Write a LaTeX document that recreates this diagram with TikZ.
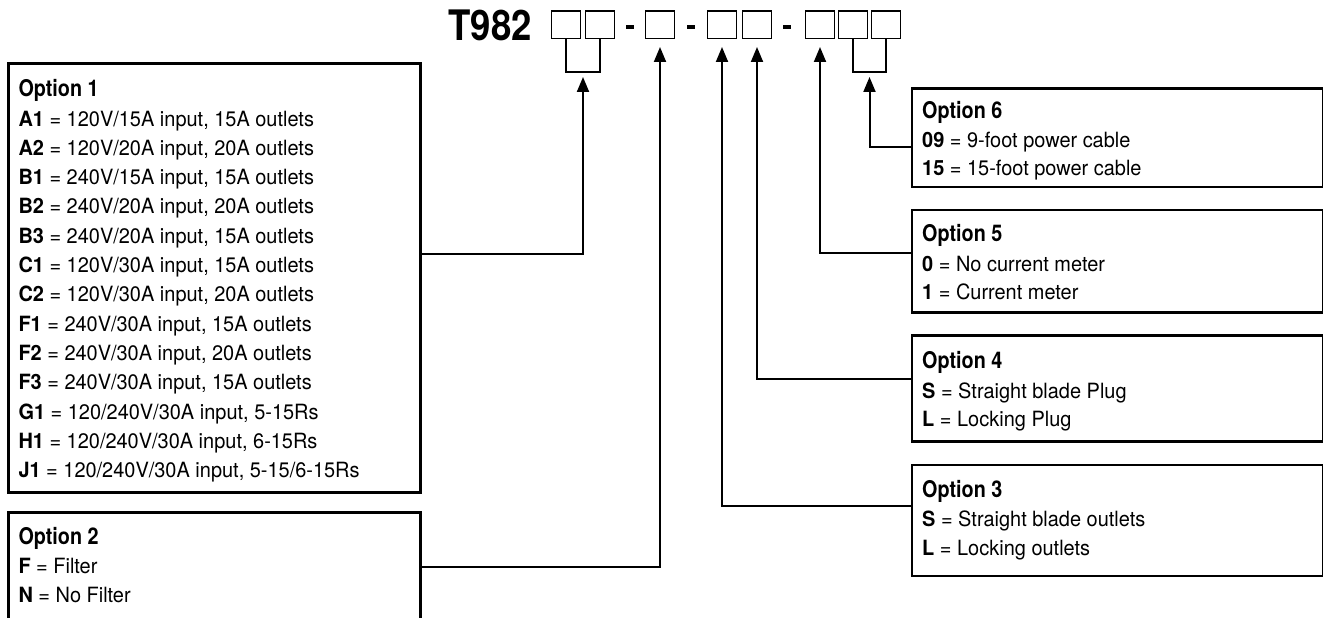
\documentclass[tikz,border=0pt]{standalone}
\usepackage{fontspec}
\setmainfont{TeX Gyre Heros}[FakeStretch=0.95]
\newfontfamily\titlefont{TeX Gyre Heros}[FakeStretch=0.87]
\newfontfamily\optfont{TeX Gyre Heros}[FakeStretch=0.86]
\usetikzlibrary{arrows.meta}
\begin{document}
\begin{tikzpicture}[x=1pt,y=-1pt,
  optbox/.style={draw, line width=2.6pt, inner sep=0pt, outer sep=0pt, anchor=north west, minimum width=411.5pt},
  ln/.style={anchor=base west, inner sep=0pt, font=\fontsize{21}{25}\selectfont},
  hd/.style={anchor=base west, inner sep=0pt, font=\optfont\bfseries\fontsize{23}{27}\selectfont},
  slot/.style={draw, line width=1.2pt, minimum width=29pt, minimum height=27.5pt, inner sep=0pt, outer sep=0pt},
  dashbar/.style={fill, inner sep=0pt, outer sep=0pt, minimum width=8pt, minimum height=4pt},
  conn/.style={line width=2pt},
  arr/.style={conn, -{Triangle[length=15pt,width=12pt]}},
  brk/.style={line width=1.5pt}]
\useasboundingbox (0,0) rectangle (1323,618);
\clip (0,0) rectangle (1323,618);
% title
\node[anchor=base east, inner sep=0pt, font=\titlefont\bfseries\fontsize{42}{42}\selectfont] (title) at (532,41) {T982};
\node[slot] (s1) at (566,24.75) {};
\node[slot] (s2) at (600,24.75) {};
\node[dashbar] (d1) at (630,27) {};
\node[slot] (s3) at (660,24.75) {};
\node[dashbar] (d2) at (691,27) {};
\node[slot] (s4) at (722,24.75) {};
\node[slot] (s5) at (757,24.75) {};
\node[dashbar] (d3) at (787,27) {};
\node[slot] (s6) at (820,24.75) {};
\node[slot] (s7) at (853,24.75) {};
\node[slot] (s8) at (886,24.75) {};
% brackets
\draw[brk] (s1.south) -- ++(0,33.5) -| (s2.south);
\draw[brk] (s7.south) -- ++(0,33.5) -| (s8.south);
\coordinate (br1) at (583,77);
\coordinate (br2) at (869.5,77);
% option boxes
\node[optbox, minimum width=412.4pt, minimum height=429pt] (o1) at (8.3,63.3) {};
\node[optbox, minimum width=412.4pt, minimum height=130pt] (o2) at (8.3,512.3) {};
\node[optbox, minimum height=111pt] (o3) at (912,465) {};
\node[optbox, minimum height=106pt] (o4) at (912,335.7) {};
\node[optbox, minimum height=102.7pt] (o5) at (912,210) {};
\node[optbox, minimum height=98.7pt] (o6) at (912,88.3) {};
% option 1 text
\node[hd] (o1h) at (18.3,96.7) {Option 1};
\foreach \c/\t [count=\k] in {
  {A1}/{120V/15A input, 15A outlets},
  {A2}/{120V/20A input, 20A outlets},
  {B1}/{240V/15A input, 15A outlets},
  {B2}/{240V/20A input, 20A outlets},
  {B3}/{240V/20A input, 15A outlets},
  {C1}/{120V/30A input, 15A outlets},
  {C2}/{120V/30A input, 20A outlets},
  {F1}/{240V/30A input, 15A outlets},
  {F2}/{240V/30A input, 20A outlets},
  {F3}/{240V/30A input, 15A outlets},
  {G1}/{120/240V/30A input, 5-15Rs},
  {H1}/{120/240V/30A input, 6-15Rs},
  {J1}/{120/240V/30A input, 5-15/6-15Rs}}
  \node[ln] (o1l\k) at (18.3,{96.7+29.3*\k}) {\textbf{\c} = \t};
% option 2 text
\node[hd] (o2h) at (18.3,544) {Option 2};
\node[ln] (o2a) at (18.3,573) {\textbf{F} = Filter};
\node[ln] (o2b) at (18.3,602) {\textbf{N} = No Filter};
% option 3 text
\node[hd] (o3h) at (922,497) {Option 3};
\node[ln] (o3a) at (922,526) {\textbf{S} = Straight blade outlets};
\node[ln] (o3b) at (922,555) {\textbf{L} = Locking outlets};
% option 4 text
\node[hd] (o4h) at (922,368.3) {Option 4};
\node[ln] (o4a) at (922,398) {\textbf{S} = Straight blade Plug};
\node[ln] (o4b) at (922,426.7) {\textbf{L} = Locking Plug};
% option 5 text
\node[hd] (o5h) at (922,241.7) {Option 5};
\node[ln] (o5a) at (922,271.5) {\textbf{0} = No current meter};
\node[ln] (o5b) at (922,299.3) {\textbf{1} = Current meter};
% option 6 text
\node[hd] (o6h) at (922,118.3) {Option 6};
\node[ln] (o6a) at (922,147.3) {\textbf{09} = 9-foot power cable};
\node[ln] (o6b) at (922,175) {\textbf{15} = 15-foot power cable};
% connectors
\draw[arr] ([yshift=-190.7pt]o1.north east) -| (br1);
\draw[arr] ([yshift=-54.4pt]o2.north east) -| ([yshift=-8.5pt]s3.south);
\draw[arr] ([yshift=-41pt]o3.north west) -| ([yshift=-8.5pt]s4.south);
\draw[arr] ([yshift=-43.3pt]o4.north west) -| ([yshift=-8.5pt]s5.south);
\draw[arr] ([yshift=-43.3pt]o5.north west) -| ([yshift=-8.5pt]s6.south);
\draw[arr] ([yshift=-59pt]o6.north west) -| (br2);
\end{tikzpicture}
\end{document}
